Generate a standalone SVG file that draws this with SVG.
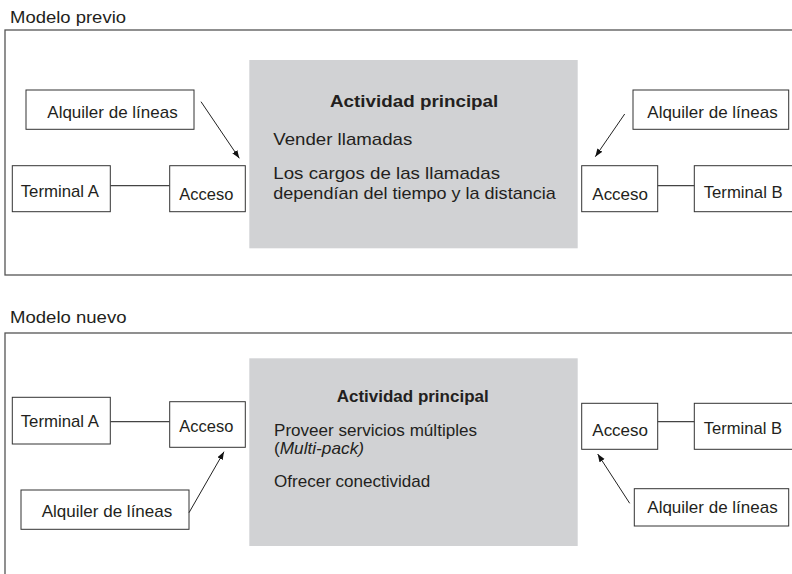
<svg xmlns="http://www.w3.org/2000/svg" width="792" height="574" viewBox="0 0 792 574">
<defs>
<style>
text{font-family:"Liberation Sans",Arial,Helvetica,sans-serif;font-size:17px;fill:#231f20}
.b{font-weight:bold}
.frame{fill:none;stroke:#555;stroke-width:1.3}
.box{fill:#fff;stroke:#333;stroke-width:1}
.act{fill:#d1d2d4;stroke:none}
.conn{stroke:#444;stroke-width:1.3;fill:none}
.arr{stroke:#222;stroke-width:1;fill:none}
</style>
<marker id="ah" markerUnits="userSpaceOnUse" markerWidth="9" markerHeight="7" refX="8" refY="3" orient="auto">
<path d="M0,0 L8,3 L0,6 z" fill="#111"/>
</marker>
</defs>
<rect width="792" height="574" fill="#fff"/>

<g id="frame-previo">
<text x="10" y="22.7" textLength="116" lengthAdjust="spacingAndGlyphs">Modelo previo</text>
<rect class="frame" x="5" y="30" width="800" height="245"/>
</g>
<g id="frame-nuevo">
<text x="10" y="323.3" textLength="116.5" lengthAdjust="spacingAndGlyphs">Modelo nuevo</text>
<rect class="frame" x="5" y="333" width="800" height="260"/>
</g>

<!-- top model -->
<g id="act-previo">
<rect class="act" x="249.3" y="60" width="328.4" height="188.3"/>
<text class="b" x="330" y="106.7" textLength="168.3" lengthAdjust="spacingAndGlyphs">Actividad principal</text>
<text x="273.3" y="145" textLength="139" lengthAdjust="spacingAndGlyphs">Vender llamadas</text>
<text x="273.3" y="179" textLength="226.7" lengthAdjust="spacingAndGlyphs">Los cargos de las llamadas</text>
<text x="273.3" y="199" textLength="282.4" lengthAdjust="spacingAndGlyphs">dependían del tiempo y la distancia</text>
</g>
<g id="alq-a-previo">
<rect class="box" x="26" y="90" width="168" height="39.3"/>
<text x="47.3" y="118.3" textLength="130.4" lengthAdjust="spacingAndGlyphs">Alquiler de líneas</text>
</g>
<g id="term-a-previo">
<rect class="box" x="12.3" y="165.7" width="98" height="46"/>
<text x="20.7" y="196.7" textLength="78.3" lengthAdjust="spacingAndGlyphs">Terminal A</text>
</g>
<g id="acc-a-previo">
<rect class="box" x="169.7" y="165.7" width="75.6" height="46"/>
<text x="179.3" y="200" textLength="54" lengthAdjust="spacingAndGlyphs">Acceso</text>
</g>
<g id="alq-b-previo">
<rect class="box" x="633" y="90" width="155.7" height="39.3"/>
<text x="647.3" y="118.3" textLength="130.4" lengthAdjust="spacingAndGlyphs">Alquiler de líneas</text>
</g>
<g id="acc-b-previo">
<rect class="box" x="581.7" y="165.7" width="76" height="46"/>
<text x="592.3" y="200" textLength="55.7" lengthAdjust="spacingAndGlyphs">Acceso</text>
</g>
<g id="term-b-previo">
<rect class="box" x="694.3" y="165.7" width="110" height="46"/>
<text x="703.7" y="198.3" textLength="79" lengthAdjust="spacingAndGlyphs">Terminal B</text>
</g>

<!-- bottom model -->
<g id="act-nuevo">
<rect class="act" x="249.3" y="358.3" width="328.4" height="187.7"/>
<text class="b" x="336.7" y="401.7" textLength="152" lengthAdjust="spacingAndGlyphs">Actividad principal</text>
<text x="274" y="435.7" textLength="203" lengthAdjust="spacingAndGlyphs">Proveer servicios múltiples</text>
<text x="274" y="454.3" textLength="90" lengthAdjust="spacingAndGlyphs">(<tspan font-style="italic">Multi-pack)</tspan></text>
<text x="274" y="486.7" textLength="156.3" lengthAdjust="spacingAndGlyphs">Ofrecer conectividad</text>
</g>
<g id="term-a-nuevo">
<rect class="box" x="12.3" y="397.3" width="98" height="46.7"/>
<text x="20.7" y="426.7" textLength="78.3" lengthAdjust="spacingAndGlyphs">Terminal A</text>
</g>
<g id="acc-a-nuevo">
<rect class="box" x="169.7" y="401.7" width="75.6" height="45.6"/>
<text x="179.3" y="431.7" textLength="54" lengthAdjust="spacingAndGlyphs">Acceso</text>
</g>
<g id="alq-a-nuevo">
<rect class="box" x="21" y="490" width="168" height="39.3"/>
<text x="41.7" y="516.7" textLength="130.6" lengthAdjust="spacingAndGlyphs">Alquiler de líneas</text>
</g>
<g id="acc-b-nuevo">
<rect class="box" x="581.7" y="403.3" width="76" height="46"/>
<text x="592.3" y="435.7" textLength="55.7" lengthAdjust="spacingAndGlyphs">Acceso</text>
</g>
<g id="term-b-nuevo">
<rect class="box" x="694.3" y="403.3" width="110" height="46"/>
<text x="703.7" y="434" textLength="78.3" lengthAdjust="spacingAndGlyphs">Terminal B</text>
</g>
<g id="alq-b-nuevo">
<rect class="box" x="634.3" y="488.7" width="154.4" height="37.3"/>
<text x="647.3" y="512.7" textLength="130.4" lengthAdjust="spacingAndGlyphs">Alquiler de líneas</text>
</g>

<g id="connectors">
<line class="conn" x1="110.3" y1="185.7" x2="169.7" y2="185.7"/>
<line class="conn" x1="657.7" y1="185.7" x2="694.3" y2="185.7"/>
<line class="arr" x1="201" y1="101.7" x2="239.3" y2="158.3" marker-end="url(#ah)"/>
<line class="arr" x1="624.7" y1="114" x2="595.3" y2="156.7" marker-end="url(#ah)"/>
<line class="conn" x1="110.3" y1="421.7" x2="169.7" y2="421.7"/>
<line class="conn" x1="657.7" y1="421.7" x2="694.3" y2="421.7"/>
<line class="arr" x1="189" y1="512.7" x2="224" y2="451.7" marker-end="url(#ah)"/>
<line class="arr" x1="629.7" y1="503.3" x2="597.7" y2="454" marker-end="url(#ah)"/>
</g>
</svg>
